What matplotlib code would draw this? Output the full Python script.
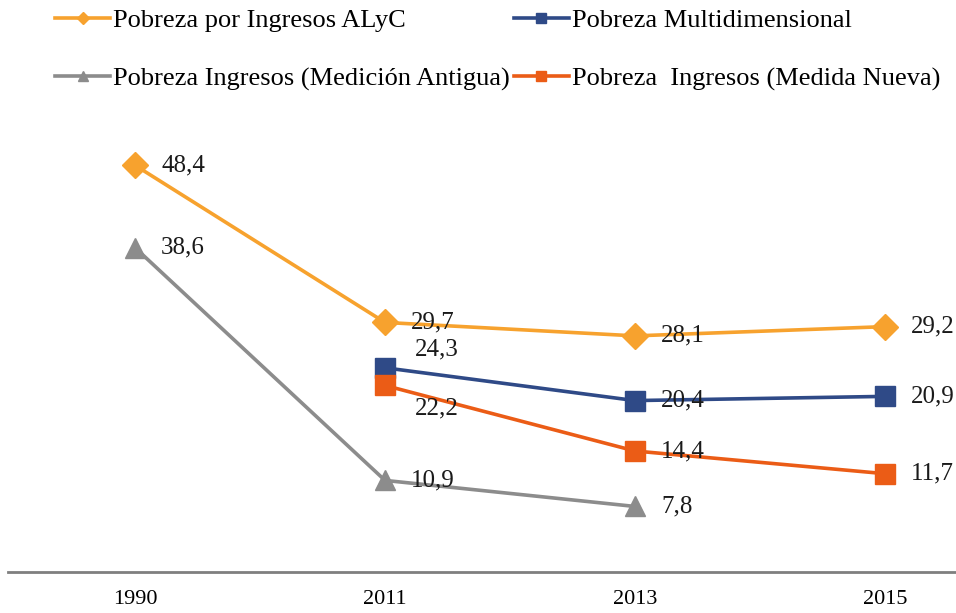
import matplotlib
matplotlib.use("Agg")
import matplotlib.pyplot as plt
import numpy as np

years = ["1990", "2011", "2013", "2015"]
alyc = [48.4, 29.7, 28.1, 29.2]
multi = [np.nan, 24.3, 20.4, 20.9]
antigua = [38.6, 10.9, 7.8, np.nan]
nueva = [np.nan, 22.2, 14.4, 11.7]

names = ["Pobreza por Ingresos ALyC", "Pobreza Multidimensional",
         "Pobreza Ingresos (Medición Antigua)", "Pobreza  Ingresos (Medida Nueva)"]
colors = ["#F7A22E", "#2F4A87", "#8C8C8C", "#EB5C16"]

plt.rcParams['font.family'] = ['Liberation Serif', 'DejaVu Serif']

fig = plt.figure(figsize=(9.56, 6.13), dpi=100)
ax = fig.add_axes([8/956, 41/613, 948/956, 442/613])
x = np.arange(len(years))

series = [
    (alyc, "D", 13, colors[0], names[0]),
    (multi, "s", 14, colors[1], names[1]),
    (antigua, "^", 15, colors[2], names[2]),
    (nueva, "s", 14, colors[3], names[3]),
]
handles = []
for vals, mk, ms, c, nm in series:
    h, = ax.plot(x, vals, color=c, lw=2.6, marker=mk, markersize=ms,
                 label=nm, zorder=3)
    handles.append(h)

fs = 18
def lab(xi, v, dx=26, dy=0):
    ax.annotate(f"{v:.1f}".replace(".", ","), (xi, v), xytext=(dx, dy),
                textcoords="offset pixels", ha="left", va="center",
                fontsize=fs, color="#1a1a1a", zorder=5)

for i, v in enumerate(alyc):
    lab(i, v)
for i, v in enumerate(antigua):
    if not np.isnan(v):
        lab(i, v)
lab(1, multi[1], dx=30, dy=18)
lab(2, multi[2])
lab(3, multi[3])
lab(1, nueva[1], dx=30, dy=-23)
lab(2, nueva[2])
lab(3, nueva[3])

ax.set_xlim((8-135)/250, (956-135)/250)
ax.set_ylim(0, 52.6)
ax.set_xticks(x)
ax.set_xticklabels(years, fontsize=16)
ax.tick_params(axis="x", length=0, pad=13)
ax.set_yticks([])
for s in ["top", "right", "left"]:
    ax.spines[s].set_visible(False)
ax.spines["bottom"].set_color("#7f7f7f")
ax.spines["bottom"].set_linewidth(2)
ax.patch.set_alpha(0)

order = [0, 2, 1, 3]
leg = fig.legend(handles=[handles[i] for i in order], loc="upper left",
                 bbox_to_anchor=(55/956, 1 - 9/613), borderpad=0,
                 borderaxespad=0,
                 ncol=2, frameon=False, fontsize=19, handlelength=2.1,
                 handletextpad=0.1, columnspacing=0.15, labelspacing=1.3,
                 markerscale=0.5)

fig.savefig("out.png", dpi=100)
